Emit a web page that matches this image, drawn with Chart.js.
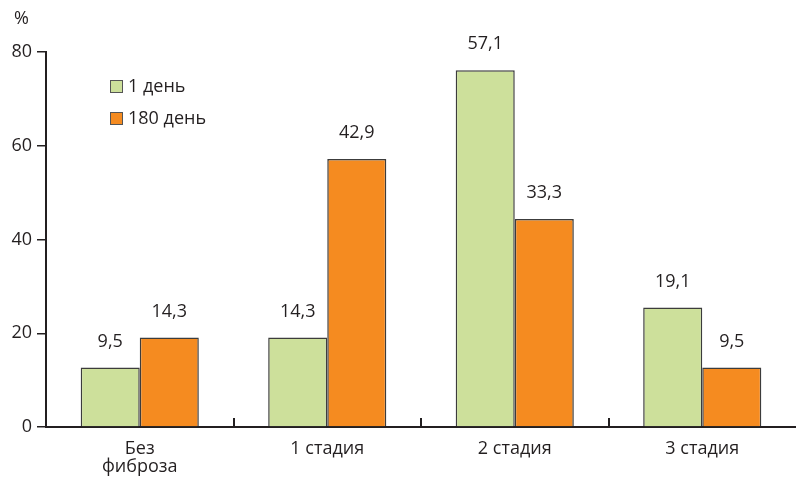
<!DOCTYPE html>
<html>
<head>
<meta charset="utf-8">
<script src="https://cdn.jsdelivr.net/npm/chart.js@4/dist/chart.umd.min.js"></script>
<style>
  html, body { margin: 0; padding: 0; background: #fff; }
  #wrap { width: 796px; height: 478px; }
</style>
</head>
<body>
<div id="wrap"><canvas id="fibrosisChart" width="796" height="478"></canvas></div>
<script>
// categories on the x axis
const stages = [['Без', 'фиброза'], '1 стадия', '2 стадия', '3 стадия'];
const seriesNames = ['1 день', '180 день'];

// bar heights
const day1Heights = [12.7, 19.1, 76.1, 25.5];
const day180Heights = [19.1, 57.2, 44.4, 12.7];

// numbers printed above the bars
const day1Labels = ['9,5', '14,3', '57,1', '19,1'];
const day180Labels = ['14,3', '42,9', '33,3', '9,5'];

const yTicks = [0, 20, 40, 60, 80];

const GREEN = '#cde09b';
const ORANGE = '#f58b20';
const INK = '#231f20';
const FONT = '"Open Sans", "Noto Sans", sans-serif';

// value labels, category dividers, legend and the % sign
const extras = {
  id: 'extras',
  afterDatasetsDraw(chart) {
    const ctx = chart.ctx;
    const x = chart.scales.x;
    const area = chart.chartArea;
    ctx.save();

    // small ticks between the groups, pointing up from the axis
    ctx.strokeStyle = INK;
    ctx.lineWidth = 2;
    for (let i = 1; i < stages.length; i++) {
      const px = Math.round((x.getPixelForTick(i - 1) + x.getPixelForTick(i)) / 2);
      ctx.beginPath();
      ctx.moveTo(px, area.bottom);
      ctx.lineTo(px, area.bottom - 9);
      ctx.stroke();
    }

    // numbers over each bar
    const labelSets = [day1Labels, day180Labels];
    ctx.fillStyle = INK;
    ctx.font = '18px ' + FONT;
    ctx.textAlign = 'center';
    ctx.textBaseline = 'middle';
    chart.data.datasets.forEach((ds, di) => {
      chart.getDatasetMeta(di).data.forEach((bar, i) => {
        ctx.fillText(labelSets[di][i], bar.x, bar.y - 26);
      });
    });

    // legend in the top-left corner of the plot
    ctx.textAlign = 'left';
    chart.data.datasets.forEach((ds, di) => {
      const top = 80 + di * 32;
      ctx.fillStyle = ds.backgroundColor;
      ctx.fillRect(110, top, 13, 13);
      ctx.strokeStyle = '#555';
      ctx.lineWidth = 1;
      ctx.strokeRect(110.5, top + 0.5, 12, 12);
      ctx.fillStyle = INK;
      ctx.fillText(ds.label, 128, top + 7);
    });

    // unit sign above the y axis
    ctx.font = '18px ' + FONT;
    ctx.fillText('%', 14, 19);
    ctx.restore();
  }
};

new Chart(document.getElementById('fibrosisChart'), {
  type: 'bar',
  data: {
    labels: stages,
    datasets: [{
      label: seriesNames[0],
      data: day1Heights,
      backgroundColor: GREEN,
      borderColor: '#3c3c3c',
      borderWidth: 1.5
    }, {
      label: seriesNames[1],
      data: day180Heights,
      backgroundColor: ORANGE,
      borderColor: '#3c3c3c',
      borderWidth: 1.5
    }]
  },
  options: {
    responsive: false,
    animation: false,
    layout: { padding: { top: 52, right: 0, left: 0, bottom: 0 } },
    plugins: {
      legend: { display: false },
      tooltip: { enabled: false }
    },
    datasets: {
      bar: { categoryPercentage: 0.63, barPercentage: 1 }
    },
    scales: {
      x: {
        offset: true,
        grid: { display: false },
        border: { display: true, color: INK, width: 2 },
        ticks: { color: INK, font: { size: 18, family: FONT, lineHeight: 1.05 }, padding: 4, maxRotation: 0 },
        afterFit: (s) => { s.height = 51; }
      },
      y: {
        min: 0,
        max: 80,
        afterBuildTicks: (s) => { s.ticks = yTicks.map(v => ({ value: v })); },
        grid: { drawOnChartArea: false, color: INK, lineWidth: 1.5, tickLength: 9 },
        border: { display: true, color: INK, width: 2 },
        ticks: { color: INK, font: { size: 18, family: FONT }, padding: 5 },
        afterFit: (s) => { s.width = 46; }
      }
    }
  },
  plugins: [extras]
});
</script>
</body>
</html>
